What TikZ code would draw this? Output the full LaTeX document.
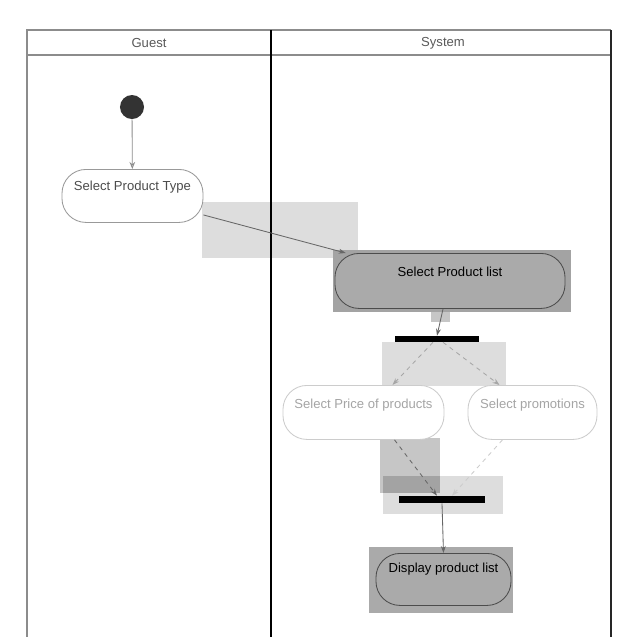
\documentclass[tikz,border=0pt]{standalone}
\usepackage{fontspec}
\setmainfont{Liberation Sans}
\usetikzlibrary{arrows.meta,calc}

\definecolor{hlpale}{HTML}{DDDDDD}
\definecolor{hlmid}{HTML}{C6C6C6}
\definecolor{hldark}{HTML}{A3A3A3}
\definecolor{actfill}{HTML}{AAAAAA}
\definecolor{laneline}{HTML}{8C8C8C}
\definecolor{dimtext}{HTML}{A5A5A5}

\tikzset{
  lanetitle/.style={text=black!65, inner sep=1pt},
  act/.style={rectangle, rounded corners=0.6cm, inner xsep=2pt, inner ysep=0pt,
    anchor=north, line width=0.6pt, align=center},
  activeact/.style={act, fill=actfill, draw=black!70, text=black},
  plainact/.style={act, fill=white, draw=black!40, text=black!70},
  dimact/.style={act, fill=white, draw=black!20, text=dimtext},
  bar/.style={rectangle, fill=black, inner sep=0pt},
  flow/.style={draw=black!60, line width=0.6pt, -{Stealth[length=5pt,width=3.5pt]}},
  dimflow/.style={draw=black!35, line width=0.6pt, dashed, -{Stealth[length=5pt,width=3.5pt]}},
}

\begin{document}
\begin{tikzpicture}[x=0.025cm, y=-0.025cm, font=\fontsize{9.3}{11}\selectfont]
\useasboundingbox (0,0) rectangle (640,640);
\fill[white] (0,0) rectangle (640,640);

% selection highlights
\fill[hlpale] (202,202) rectangle (358,258);
\fill[hldark] (333,250) rectangle (571,312);
\fill[hlmid] (431,312) rectangle (450,322);
\fill[hlpale] (382,342) rectangle (506,386);
\fill[hlmid] (380,438) rectangle (440,493);
\fill[hlpale] (383,476) rectangle (503,514);
\fill[hldark] (383,476) rectangle (440,493);
\fill[actfill] (369,547) rectangle (513,613);

% swimlanes
\draw[laneline, line width=1.4pt] (26,30) -- (611,30);
\draw[laneline, line width=1.4pt] (26,55) -- (611,55);
\draw[black!45, line width=1.4pt] (27,30) -- (27,637);
\draw[black, line width=2pt] (271,30) -- (271,637);
\draw[black!85, line width=1.5pt] (611,30) -- (611,637);
\node[lanetitle] (guest) at (149,43) {Guest};
\node[lanetitle] (system) at (443,43) {System};

% activities
\node[circle, fill=black!80, minimum size=0.6cm, inner sep=0pt] (start) at (132,107) {};
\node[plainact, minimum width=3.525cm, text height=0.525cm, text depth=0.8cm] (spt) at (132.5,169) {Select Product Type};
\node[activeact, minimum width=5.75cm, text height=0.575cm, text depth=0.8cm] (spl) at (450,253) {Select Product list};
\node[bar, minimum width=2.1cm, minimum height=0.15cm] (fork) at (437,339) {};
\node[dimact, minimum width=4.025cm, text height=0.575cm, text depth=0.775cm] (price) at (363.5,385) {Select Price of products};
\node[dimact, minimum width=3.225cm, text height=0.575cm, text depth=0.775cm] (promo) at (532.5,385) {Select promotions};
\node[bar, minimum width=2.15cm, minimum height=0.175cm] (join) at (442,499.5) {};
\node[activeact, minimum width=3.375cm, text height=0.475cm, text depth=0.825cm] (show) at (443.5,553) {Display product list};

% transitions
\draw[draw=black!45, line width=0.6pt, -{Stealth[open,length=5pt,width=4pt]}] (start) -- (spt);
\draw[flow] (spt.-15) -- (spl.165);
\draw[flow] (spl.-104) -- (fork.north);
\draw[dimflow] ($(fork.south)+(-4,0)$) -- ($(price.north)+(29,0)$);
\draw[dimflow] ($(fork.south)+(6,0)$) -- ($(promo.north)+(-33,0)$);
\draw[flow, dashed] ($(price.south)+(31,0)$) -- ($(join.north)+(-5,0)$);
\draw[dimflow, draw=black!20] ($(promo.south)+(-30,0)$) -- ($(join.north)+(10,0)$);
\draw[flow] (join.south) -- (show.north);
\end{tikzpicture}
\end{document}
